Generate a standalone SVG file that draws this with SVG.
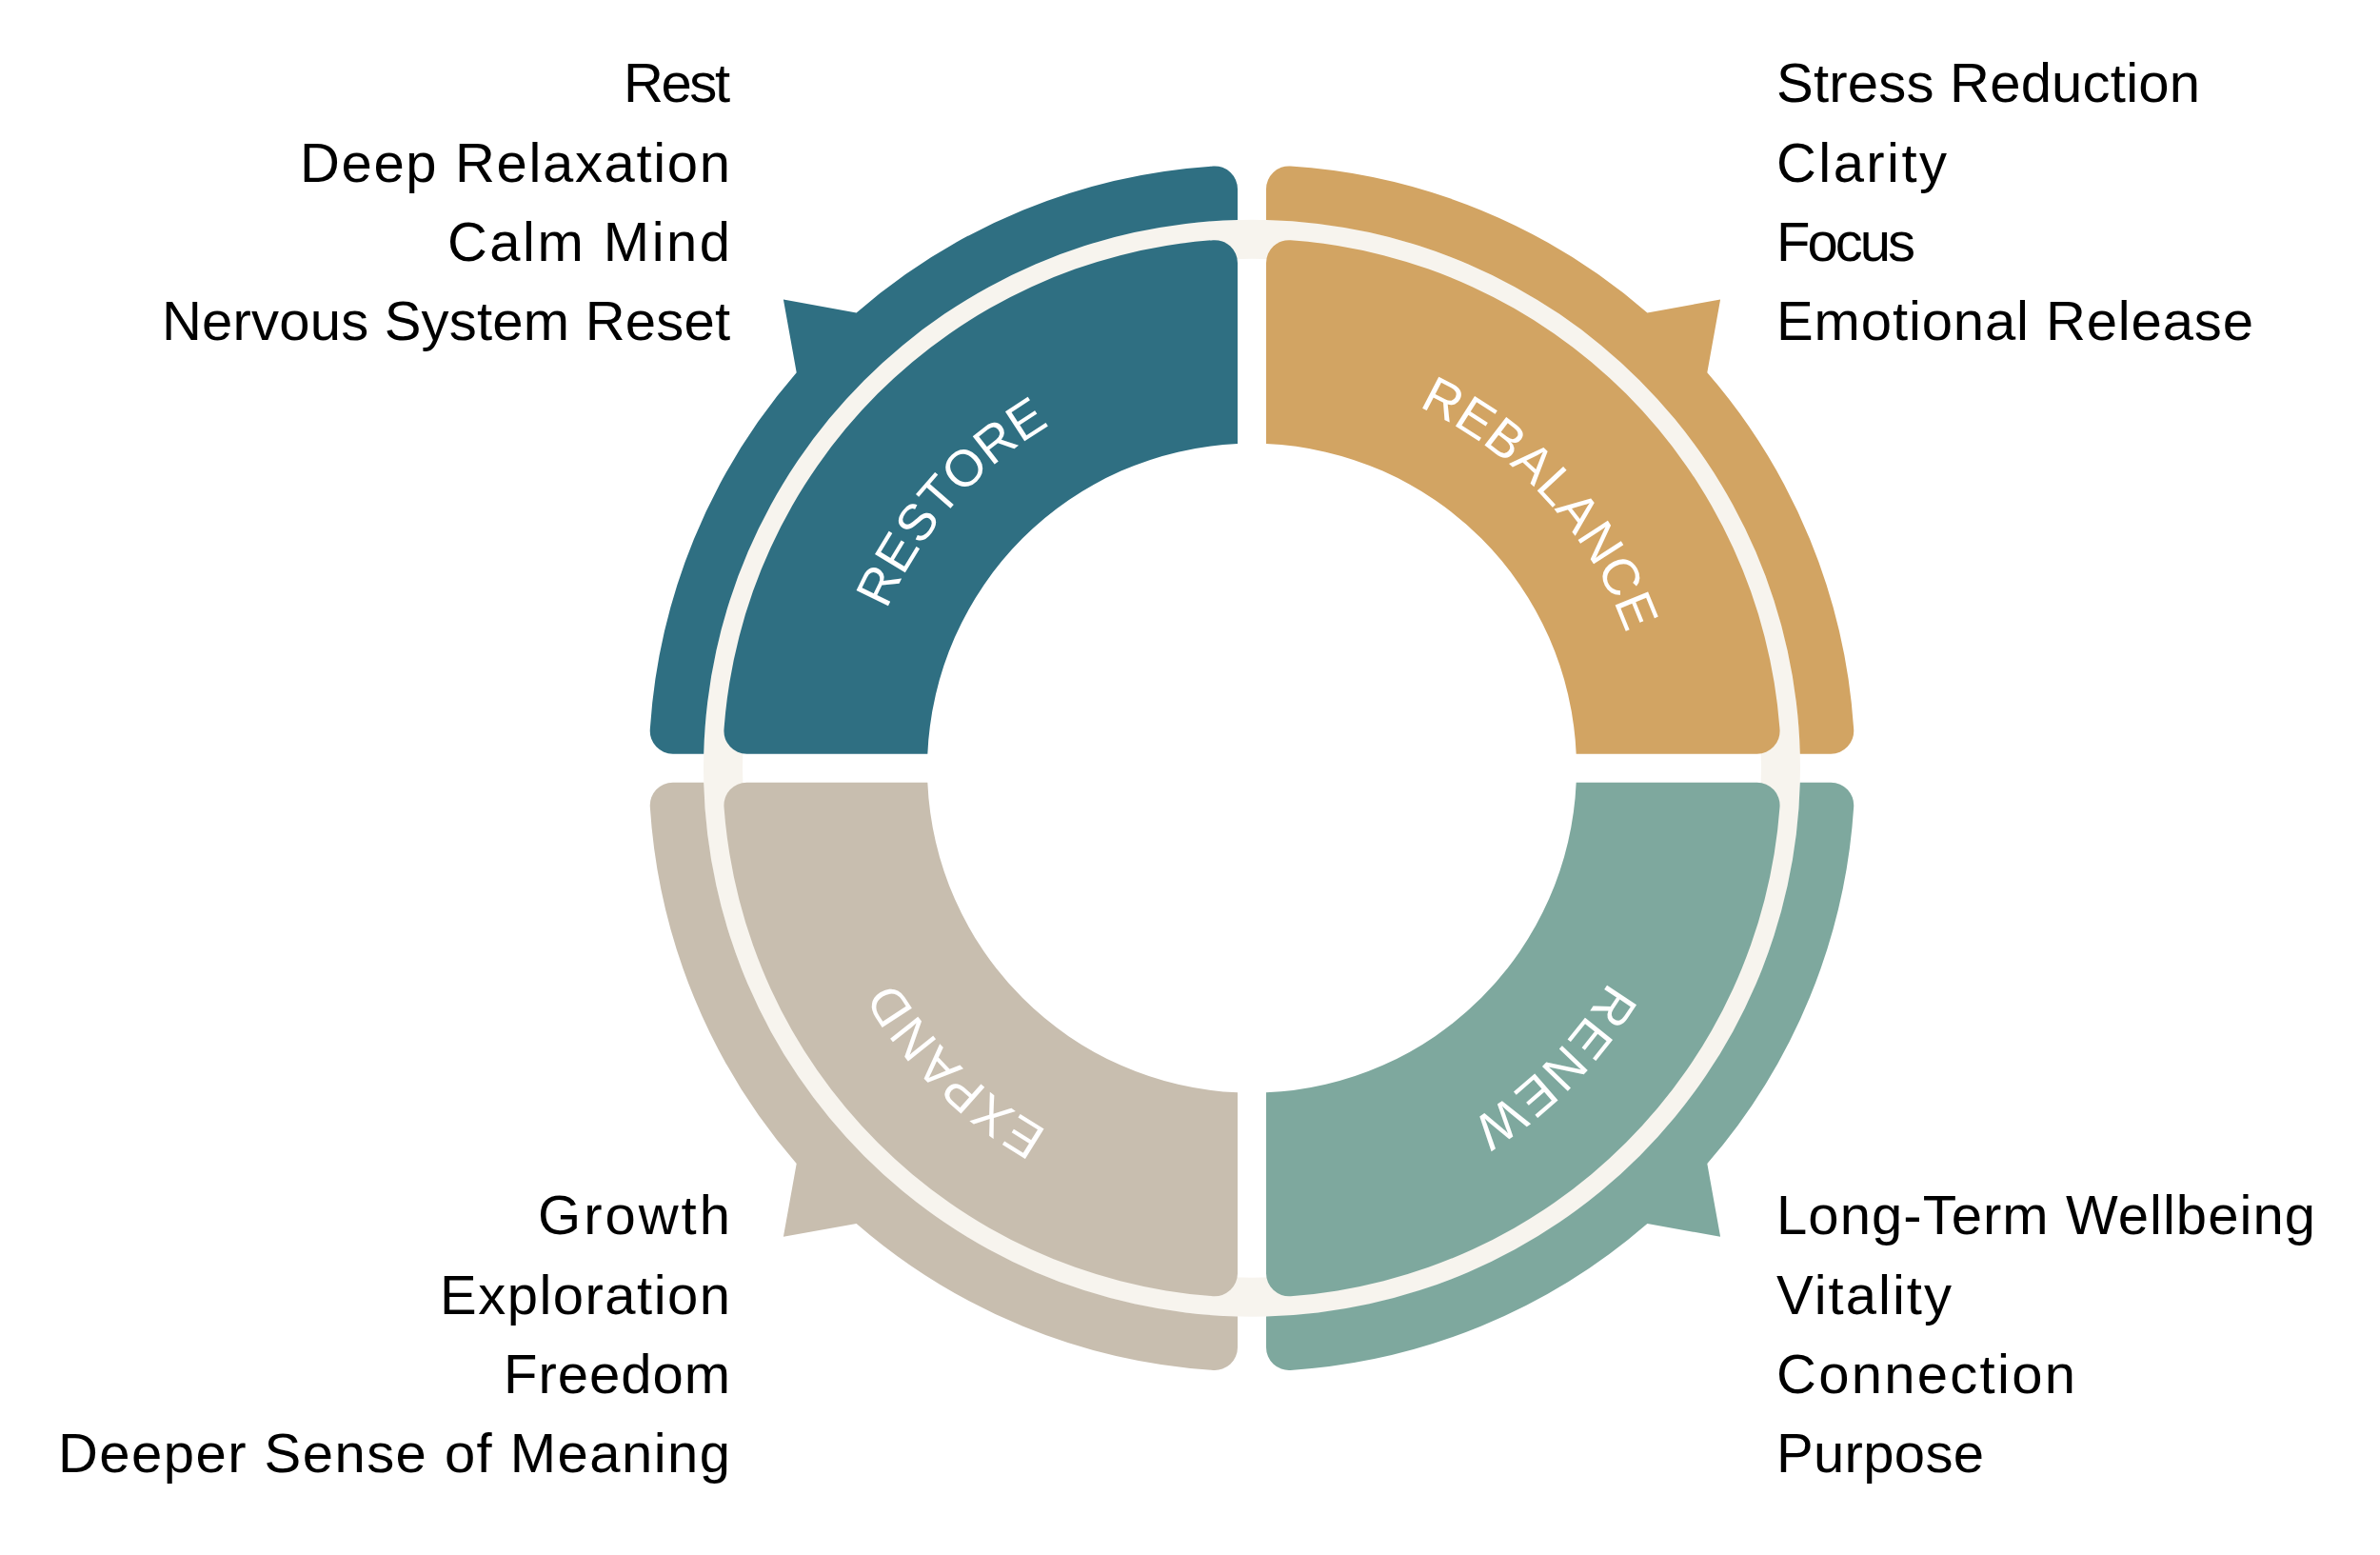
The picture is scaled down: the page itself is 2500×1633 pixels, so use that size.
<svg xmlns="http://www.w3.org/2000/svg" width="2500" height="1633" viewBox="0 0 2500 1633">
<style>
.restore{fill:#2F6F82}
.rebalance{fill:#D2A463}
.expand{fill:#C8BEAF}
.renew{fill:#7EA89E}
.ring{fill:none;stroke:#F7F4EE;stroke-width:41}
.lbl{font-family:"Liberation Sans",Arial,sans-serif;font-size:54px;fill:#FFFFFF;letter-spacing:0.5px}
.lbl2{font-family:"Liberation Sans",Arial,sans-serif;font-size:54px;fill:#FFFFFF;letter-spacing:2px}
.item{font-family:"Liberation Sans",Arial,sans-serif;font-size:58px;fill:#000000}
.l{text-anchor:end}
.r{text-anchor:start}
</style>
<defs>
<path id="outerShape" d="M -575.80,-15 L -608.25,-15 A 24 24 0 0 1 -632.20,-40.54 A 633.5 633.5 0 0 1 -478.3,-415.4 L -492.1,-492.1 L -415.4,-478.3 A 633.5 633.5 0 0 1 -40.54,-632.20 A 24 24 0 0 1 -15,-608.25 L -15,-575.80 A 576 576 0 0 0 -575.80,-15 Z"/>
<path id="innerShape" d="M -340.67,-15 L -530.57,-15 A 24 24 0 0 1 -554.50,-40.76 A 556 556 0 0 1 -40.76,-554.50 A 24 24 0 0 1 -15,-530.57 L -15,-340.67 A 341 341 0 0 0 -340.67,-15 Z"/>
<path id="arcRestore" d="M918.6,939.3 A418,418 0 0 1 1398.3,397.1" fill="none"/>
<path id="arcRebalance" d="M1224.5,398.6 A418,418 0 0 1 1713.6,932.4" fill="none"/>
<path id="arcRenew" d="M1736.5,691.4 A437,437 0 0 1 1204.1,1229.4" fill="none"/>
<path id="arcExpand" d="M1431.8,1227.8 A437,437 0 0 1 891.9,697.3" fill="none"/>
</defs>
<rect width="2500" height="1633" fill="#FFFFFF"/>
<g id="connectors">
<circle class="ring" cx="1315" cy="806.7" r="555.5"/>
</g>
<g id="node-restore">
<use href="#outerShape" class="restore" transform="translate(1315,806.7)"/>
<use href="#innerShape" class="restore" transform="translate(1315,806.7)"/>
<text class="lbl"><textPath href="#arcRestore" startOffset="50%" text-anchor="middle">RESTORE</textPath></text>
<text class="item l" x="767" y="107" textLength="112">Rest</text>
<text class="item l" x="767" y="191" textLength="452">Deep Relaxation</text>
<text class="item l" x="767" y="274" textLength="297">Calm Mind</text>
<text class="item l" x="767" y="357" textLength="597">Nervous System Reset</text>
</g>
<g id="node-rebalance">
<use href="#outerShape" class="rebalance" transform="translate(1315,806.7) scale(-1,1)"/>
<use href="#innerShape" class="rebalance" transform="translate(1315,806.7) scale(-1,1)"/>
<text class="lbl"><textPath href="#arcRebalance" startOffset="50%" text-anchor="middle">REBALANCE</textPath></text>
<text class="item r" x="1866" y="107" textLength="445">Stress Reduction</text>
<text class="item r" x="1866" y="191" textLength="179">Clarity</text>
<text class="item r" x="1866" y="274" textLength="146">Focus</text>
<text class="item r" x="1866" y="357" textLength="501">Emotional Release</text>
</g>
<g id="node-renew">
<use href="#outerShape" class="renew" transform="translate(1315,806.7) scale(-1,-1)"/>
<use href="#innerShape" class="renew" transform="translate(1315,806.7) scale(-1,-1)"/>
<text class="lbl2"><textPath href="#arcRenew" startOffset="50%" text-anchor="middle">RENEW</textPath></text>
<text class="item r" x="1866" y="1296" textLength="566">Long-Term Wellbeing</text>
<text class="item r" x="1866" y="1380" textLength="184">Vitality</text>
<text class="item r" x="1866" y="1463" textLength="314">Connection</text>
<text class="item r" x="1866" y="1546" textLength="218">Purpose</text>
</g>
<g id="node-expand">
<use href="#outerShape" class="expand" transform="translate(1315,806.7) scale(1,-1)"/>
<use href="#innerShape" class="expand" transform="translate(1315,806.7) scale(1,-1)"/>
<text class="lbl2"><textPath href="#arcExpand" startOffset="50%" text-anchor="middle">EXPAND</textPath></text>
<text class="item l" x="767" y="1296" textLength="202">Growth</text>
<text class="item l" x="767" y="1380" textLength="305">Exploration</text>
<text class="item l" x="767" y="1463" textLength="238">Freedom</text>
<text class="item l" x="767" y="1546" textLength="706">Deeper Sense of Meaning</text>
</g>
</svg>
